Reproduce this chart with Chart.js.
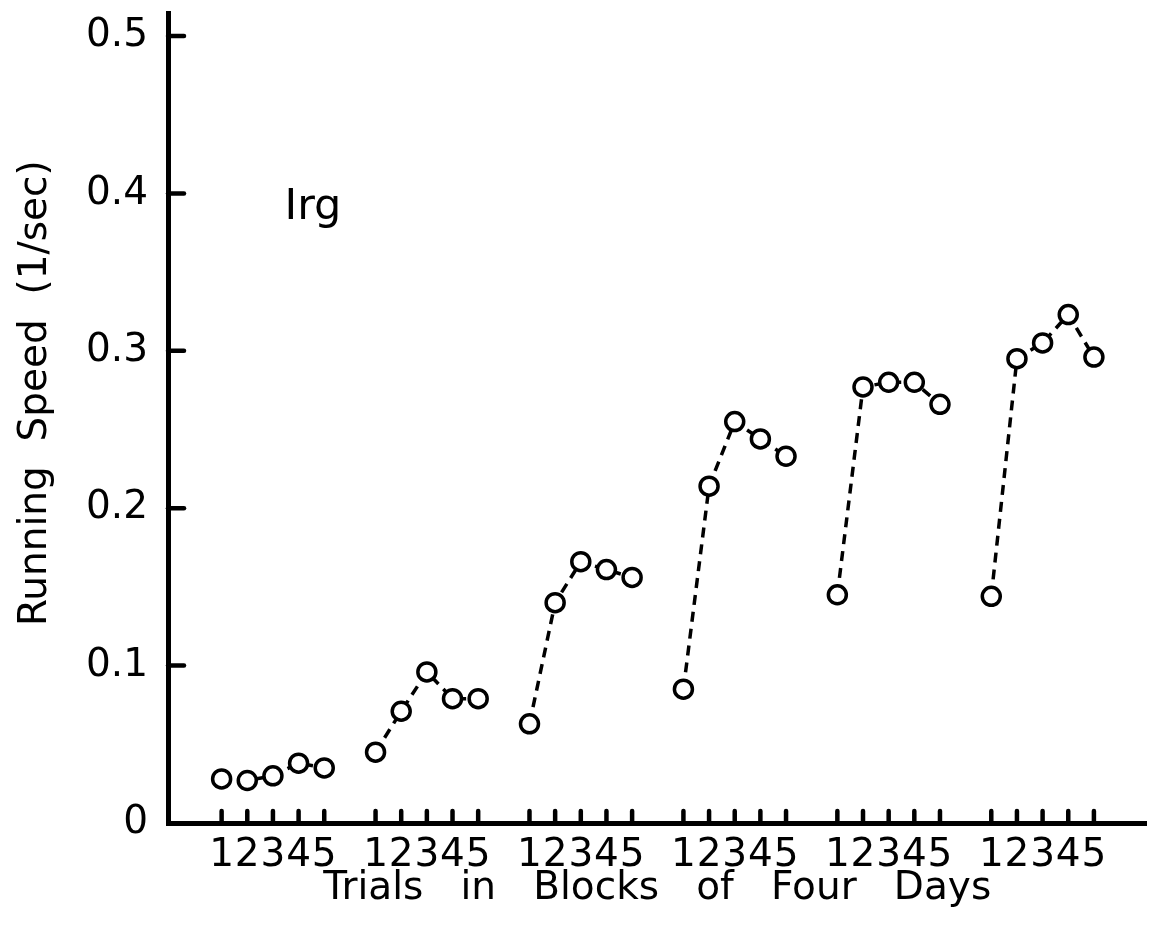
<!DOCTYPE html>
<html>
<head>
<meta charset="utf-8">
<script src="https://cdn.jsdelivr.net/npm/chart.js@4.4.1/dist/chart.umd.min.js"></script>
<style>
  html, body { margin: 0; padding: 0; background: #fff; overflow: hidden; }
  #wrap { width: 1159px; height: 940px; }
  canvas { display: block; }
</style>
</head>
<body>
<div id="wrap"><canvas id="myChart" width="1159" height="940"></canvas></div>
<script>
// trial number inside each block, and the blocks of four days
const trials = [1, 2, 3, 4, 5];
const blockNames = ['Block 1', 'Block 2', 'Block 3', 'Block 4', 'Block 5', 'Block 6'];

// running speed (1/sec) per trial
const block1 = [0.028, 0.027, 0.030, 0.038, 0.035];
const block2 = [0.045, 0.071, 0.096, 0.079, 0.079];
const block3 = [0.063, 0.140, 0.166, 0.161, 0.156];
const block4 = [0.085, 0.214, 0.255, 0.244, 0.233];
const block5 = [0.145, 0.277, 0.280, 0.280, 0.266];
const block6 = [0.144, 0.295, 0.305, 0.323, 0.296];
const blockValues = [block1, block2, block3, block4, block5, block6];

const yTickValues = [0, 0.1, 0.2, 0.3, 0.4, 0.5];
const groupLabel = 'Irg';

const blockGap = 6; // one empty slot between blocks on the x scale
const xPos = (b, t) => b * blockGap + t;

const font = 'DejaVu Sans';
const fontSize = 39;

const datasets = blockValues.map((vals, b) => ({
  label: blockNames[b],
  data: vals.map((v, i) => ({ x: xPos(b, trials[i]), y: v })),
  borderColor: '#000',
  borderWidth: 3.5,
  borderDash: [10, 7],
  pointRadius: 9,
  pointBorderWidth: 3.5,
  pointBackgroundColor: '#fff',
  pointBorderColor: '#000',
  fill: false,
  tension: 0,
}));

const xTickValues = [];
blockValues.forEach((vals, b) => trials.forEach(t => xTickValues.push(xPos(b, t))));

// short tick marks pointing into the plot, plus the group label
const innerTicks = {
  id: 'innerTicks',
  afterDraw(chart) {
    const { ctx, scales: { x, y } } = chart;
    ctx.save();
    ctx.strokeStyle = '#000';
    ctx.lineWidth = 4.5;
    ctx.lineCap = 'round';
    yTickValues.forEach(v => {
      if (v === 0) return;
      const py = y.getPixelForValue(v);
      ctx.beginPath();
      ctx.moveTo(x.left, py);
      ctx.lineTo(x.left + 16, py);
      ctx.stroke();
    });
    xTickValues.forEach(v => {
      const px = x.getPixelForValue(v);
      ctx.beginPath();
      ctx.moveTo(px, y.bottom);
      ctx.lineTo(px, y.bottom - 12);
      ctx.stroke();
    });
    ctx.fillStyle = '#000';
    ctx.font = `43px "${font}"`;
    ctx.textAlign = 'left';
    ctx.textBaseline = 'alphabetic';
    ctx.fillText(groupLabel, x.getPixelForValue(3.45), y.getPixelForValue(0.384));
    ctx.restore();
  }
};

const noOverflow = scale => {
  scale.paddingTop = 0;
  scale.paddingBottom = 0;
  scale.paddingLeft = 0;
  scale.paddingRight = 0;
};

const ctx = document.getElementById('myChart');

new Chart(ctx, {
  type: 'line',
  data: { datasets: datasets },
  plugins: [innerTicks],
  options: {
    responsive: false,
    animation: false,
    layout: { padding: { top: 13, right: 5, left: 0, bottom: 0 } },
    plugins: {
      legend: { display: false },
      tooltip: { enabled: false },
    },
    scales: {
      x: {
        type: 'linear',
        min: -1.09,
        max: 37.05,
        grid: { display: false, drawTicks: false },
        border: { display: true, width: 5, color: '#000' },
        afterBuildTicks: scale => {
          scale.ticks = xTickValues.map(v => ({ value: v }));
        },
        afterFit: scale => { scale.height = 117; noOverflow(scale); },
        ticks: {
          autoSkip: false,
          maxRotation: 0,
          padding: 9,
          color: '#000',
          font: { family: font, size: fontSize },
          callback: v => String(trials[(v - 1) % blockGap]),
        },
        title: {
          display: true,
          text: 'Trials   in   Blocks   of   Four   Days',
          color: '#000',
          font: { family: font, size: fontSize },
          padding: { top: 0, bottom: 28 },
        },
      },
      y: {
        type: 'linear',
        min: 0,
        max: 0.5146,
        grid: { display: false, drawTicks: false },
        border: { display: true, width: 5, color: '#000' },
        afterBuildTicks: scale => {
          scale.ticks = yTickValues.map(v => ({ value: v }));
        },
        afterFit: scale => { scale.width = 168; noOverflow(scale); },
        ticks: {
          padding: 20,
          color: '#000',
          font: { family: font, size: fontSize },
          callback: v => (v === 0 ? '0' : v.toFixed(1)),
        },
        title: {
          display: true,
          text: '    Running  Speed  (1/sec)',
          color: '#000',
          font: { family: font, size: fontSize },
          padding: { top: 12, bottom: 0 },
        },
      },
    },
  },
});
</script>
</body>
</html>
